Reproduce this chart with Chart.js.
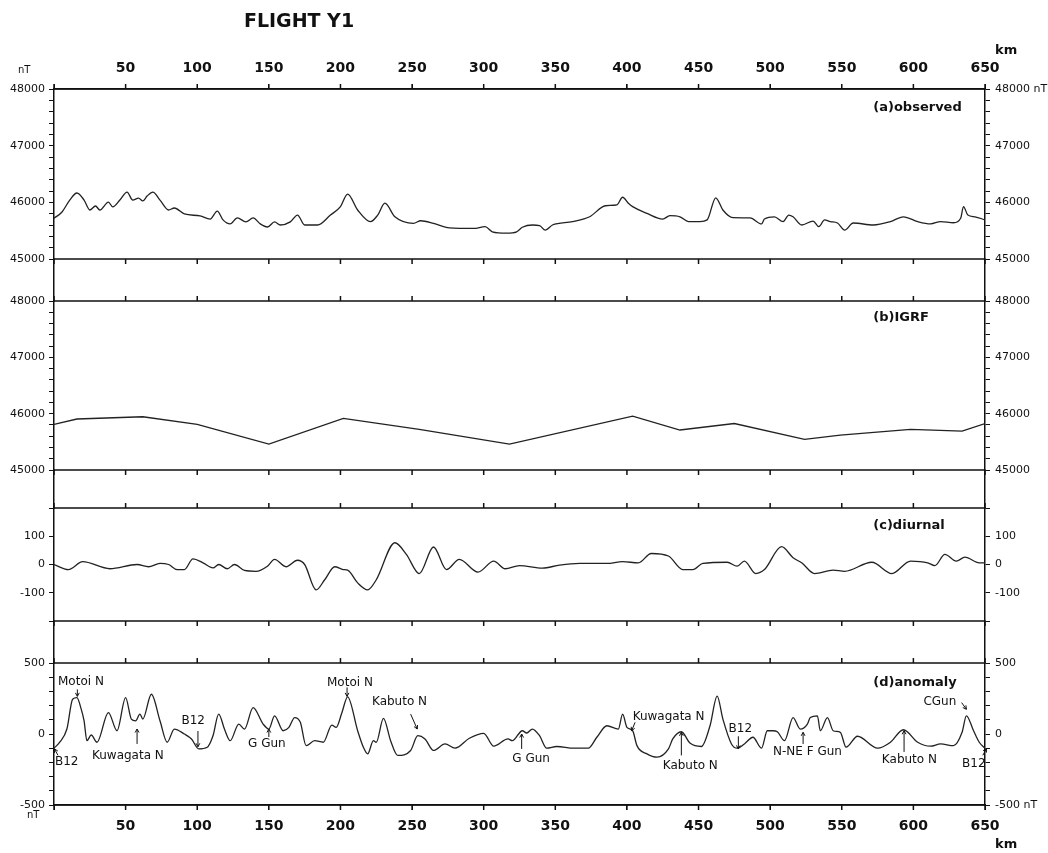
<!DOCTYPE html>
<html>
<head>
<meta charset="utf-8">
<title>Flight Y1</title>
<script src="https://cdn.jsdelivr.net/npm/chart.js@4.4.1/dist/chart.umd.min.js"></script>
<style>
  html, body { margin: 0; padding: 0; background: #fff; }
  canvas { display: block; }
</style>
</head>
<body>
<canvas id="grafico" width="1048" height="853"></canvas>
<script>
// (a) observed total field, km along the flight line / nT
const obsKm = [0, 5.6, 11, 16, 21, 25, 29, 32, 38, 41, 46, 51, 55, 59, 62, 65, 69, 74, 80, 84,
  91, 102, 109, 114, 118, 123, 128, 134, 139, 144, 149, 154, 158, 165, 170, 175, 184, 193, 200, 205,
  212, 221, 226, 231, 238, 251, 256, 265, 276, 293, 301, 306, 316, 323, 327, 334, 339, 343, 348, 362,
  374, 385, 393, 397, 401, 404, 414, 425, 430, 437, 443, 451, 456, 462, 467, 474, 486, 494, 496, 503,
  509, 513, 516, 522, 530, 534, 538, 542, 547, 552, 558, 572, 584, 593, 603, 612, 619, 628, 633, 635,
  638, 643, 650];
const obsNT = [45720, 45830, 46040, 46165, 46040, 45865, 45935, 45865, 46005, 45920, 46040, 46180, 46040, 46075, 46025, 46110, 46180, 46040, 45865, 45900,
  45795, 45760, 45705, 45845, 45690, 45620, 45725, 45655, 45725, 45620, 45565, 45655, 45600, 45655, 45775, 45600, 45600, 45775, 45925, 46145,
  45865, 45660, 45775, 45985, 45745, 45630, 45675, 45630, 45550, 45540, 45570, 45480, 45455, 45480, 45560, 45600, 45590, 45510, 45600, 45660,
  45745, 45940, 45955, 46090, 45985, 45925, 45805, 45705, 45765, 45745, 45660, 45660, 45690, 46080, 45865, 45730, 45725, 45620, 45705, 45745,
  45660, 45775, 45745, 45600, 45670, 45570, 45690, 45660, 45635, 45510, 45635, 45600, 45660, 45745, 45660, 45620, 45660, 45640, 45720, 45925,
  45775, 45745, 45690];

// (b) IGRF
const igrfKm = [0, 16, 62, 100, 150, 202, 255, 318, 404, 437, 475, 524, 549, 598, 634, 650];
const igrfNT = [45810, 45905, 45945, 45810, 45460, 45915, 45720, 45460, 45955, 45710, 45825, 45545, 45620, 45720, 45690, 45825];

// (c) diurnal
const diurnalKm = [0, 10, 20, 39, 58, 66, 74, 80, 86, 91, 97, 104, 111, 115, 121, 126, 133, 141, 149, 154,
  162, 170, 175, 183, 189, 196, 202, 205, 212, 219, 225, 238, 246, 255, 265, 274, 283, 296, 307, 315,
  325, 341, 353, 367, 386, 397, 408, 417, 429, 439, 446, 453, 470, 477, 482, 490, 496, 508, 516, 522,
  531, 544, 552, 571, 585, 598, 610, 615, 622, 630, 636, 646, 650];
const diurnalNT = [0, -18, 10, -15, 0, -8, 4, 0, -18, -18, 20, 6, -12, 0, -15, 0, -21, -24, -6, 18,
  -8, 15, 0, -90, -54, -8, -18, -20, -65, -90, -54, 77, 36, -32, 62, -18, 18, -27, 12, -15,
  -4, -13, -2, 4, 4, 10, 6, 39, 30, -18, -18, 4, 8, -6, 12, -32, -18, 63, 24, 6,
  -32, -20, -24, 8, -32, 12, 6, -4, 36, 12, 26, 6, 6];

// (d) anomaly
const anomKm = [0, 4, 9, 13, 16, 19, 21, 23, 26, 30, 38, 44, 50, 54, 57, 60, 62, 68, 74, 79,
  84, 91, 96, 101, 107, 111, 115, 119, 123, 129, 133, 139, 146, 150, 154, 160, 164, 168, 172, 176,
  182, 188, 194, 197, 201, 205, 212, 216, 219, 223, 225, 230, 235, 240, 249, 254, 259, 265, 273, 280,
  290, 300, 307, 317, 320, 327, 330, 334, 339, 344, 351, 363, 373, 379, 386, 394, 397, 400, 404, 407,
  414, 421, 429, 432, 438, 444, 452, 458, 463, 467, 473, 477, 482, 488, 494, 498, 502, 505, 510, 516,
  521, 526, 528, 533, 535, 540, 544, 549, 553, 561, 575, 584, 593, 603, 612, 619, 628, 634, 637, 642,
  646, 650];
const anomNT = [-100, -58, 35, 245, 256, 175, 93, -47, -7, -58, 151, 23, 256, 105, 93, 140, 105, 280, 93, -58,
  35, 0, -35, -105, -93, -12, 140, 35, -47, 70, 35, 186, 70, 35, 128, 23, 47, 116, 82, -82,
  -47, -58, 63, 47, 150, 262, 23, -93, -140, -47, -58, 110, -47, -151, -116, -12, -35, -116, -70, -100,
  -30, 5, -86, -35, -47, 23, 7, 35, -12, -100, -88, -100, -100, -23, 58, 35, 140, 47, 23, -82,
  -140, -163, -105, -35, 16, -64, -88, 58, 267, 105, -70, -100, -70, -23, -100, 23, 23, 16, -47, 116,
  35, 70, 116, 128, 23, 116, 23, 12, -93, -16, -100, -58, 30, -58, -86, -70, -82, 12, 128, 23,
  -58, -100];

// x ticks (km) and labelled y ticks per panel
const kmTicks = [50, 100, 150, 200, 250, 300, 350, 400, 450, 500, 550, 600, 650];
const fieldLabels = [45000, 46000, 47000, 48000];
const diurnalLabels = [-100, 0, 100];
const anomLabels = [-500, 0, 500];

// text notes on the anomaly panel
const noteText = ['Motoi N', 'B12', 'Kuwagata N', 'B12', 'G Gun', 'Motoi N', 'Kabuto N', 'G Gun',
  'Kuwagata N', 'Kabuto N', 'B12', 'N-NE F Gun', 'Kabuto N', 'B12', 'CGun'];
const noteKm = [2.8, 0.7, 26.5, 89, 135.5, 190.6, 222, 320, 404, 425, 471, 502, 578, 634, 607];
const noteNT = [370, -195, -153, 90, -70, 363, 223, -175, 119, -221, 35, -124, -179, -209, 223];
const arrowFromKm = [16.3, 2.8, 58, 100.5, 150, 204.6, 249, 326.5, 405.7, 438, 477.8, 523, 593.5, 648.5, 633.7];
const arrowFromNT = [314, -150, -70, 21, -21, 328, 140, -105, 82, -151, -16, -70, -126, -150, 221];
const arrowToKm = [16.3, 0.3, 58, 100.5, 150, 204.6, 253.6, 326.5, 403.3, 438, 477.8, 523, 593.5, 651, 637];
const arrowToNT = [265, -105, 35, -90, 35, 265, 35, 0, 23, 12, -105, 12, 23, -103, 174];

const panelNames = ['(a)observed', '(b)IGRF', '(c)diurnal', '(d)anomaly'];
const panelNameKm = 572;
const panelNameNT = [47665, 47711, 136, 363];

const ink = '#111';
const lineInk = '#222';
const yFont = { family: 'DejaVu Sans', size: 11 };
const xFont = { family: 'DejaVu Sans', size: 14, weight: 'bold' };

function toPoints(xs, ys) {
  return xs.map((v, i) => ({ x: v, y: ys[i] }));
}

// one band of the stacked y axes
function panelAxis(pos, min, max, step, labels, order, size, unitAt) {
  return {
    type: 'linear', position: pos, stack: pos + 'Stack', stackWeight: size, weight: order,
    min: min, max: max,
    border: { display: true, color: ink, width: 1.5 },
    grid: { drawOnChartArea: false, tickLength: 5, color: ink },
    ticks: {
      stepSize: step, autoSkip: false, color: ink, font: yFont, padding: pos === 'left' ? 4 : 5,
      callback: v => labels.includes(v) ? (v === unitAt ? v + ' nT' : String(v)) : ''
    },
    afterFit: s => { s.width = pos === 'left' ? 54 : 63; }
  };
}

// empty band between panels
function gapAxis(pos, order, size) {
  return {
    type: 'linear', position: pos, stack: pos + 'Stack', stackWeight: size, weight: order,
    min: 0, max: 1,
    border: { display: true, color: ink, width: 1.5 },
    grid: { display: false },
    ticks: { display: false },
    afterFit: s => { s.width = pos === 'left' ? 54 : 63; }
  };
}

function kmAxis(pos, pad, height) {
  return {
    type: 'linear', position: pos, min: 0, max: 650,
    border: { color: ink, width: 1.5 },
    grid: { drawOnChartArea: false, tickLength: 5, color: ink },
    afterBuildTicks: s => { s.ticks = [0].concat(kmTicks).map(v => ({ value: v })); },
    ticks: {
      autoSkip: false, maxRotation: 0, padding: pad, color: ink, font: xFont,
      callback: v => kmTicks.includes(v) ? String(v) : ''
    },
    afterFit: s => { s.height = height; }
  };
}

// horizontal frame lines with km ticks between the panels
const frameLines = {
  id: 'frameLines',
  afterDatasetsDraw(chart) {
    const ctx = chart.ctx;
    const x = chart.scales.x;
    ctx.save();
    ctx.strokeStyle = ink;
    ctx.lineWidth = 1.5;
    ['ya', 'yb', 'yc', 'yd'].forEach(id => {
      const s = chart.scales[id];
      [[s.top, -1], [s.bottom, 1]].forEach(([y, dir]) => {
        ctx.beginPath();
        ctx.moveTo(x.left, y);
        ctx.lineTo(x.right, y);
        x.ticks.forEach(t => {
          const px = x.getPixelForValue(t.value);
          ctx.moveTo(px, y);
          ctx.lineTo(px, y + dir * 5);
        });
        ctx.stroke();
      });
    });
    ctx.restore();
  }
};

function drawArrow(ctx, x1, y1, x2, y2) {
  const ang = Math.atan2(y2 - y1, x2 - x1);
  ctx.beginPath();
  ctx.moveTo(x1, y1);
  ctx.lineTo(x2, y2);
  ctx.moveTo(x2 - 4 * Math.cos(ang - 0.5), y2 - 4 * Math.sin(ang - 0.5));
  ctx.lineTo(x2, y2);
  ctx.lineTo(x2 - 4 * Math.cos(ang + 0.5), y2 - 4 * Math.sin(ang + 0.5));
  ctx.stroke();
}

// title, units, panel names and the notes on (d)
const texts = {
  id: 'texts',
  afterDraw(chart) {
    const { ctx, chartArea: area, scales } = chart;
    const x = scales.x;
    ctx.save();
    ctx.fillStyle = ink;
    ctx.strokeStyle = ink;
    ctx.textBaseline = 'middle';

    ctx.font = 'bold 19px "DejaVu Sans"';
    ctx.textAlign = 'center';
    ctx.fillText('FLIGHT Y1', 299, 22);

    ctx.font = 'bold 13px "DejaVu Sans"';
    ctx.textAlign = 'left';
    ctx.fillText('km', area.right + 10, area.top - 38);
    ctx.fillText('km', area.right + 10, area.bottom + 40);

    ctx.font = '10px "DejaVu Sans"';
    ctx.fillText('nT', 18, area.top - 19);
    ctx.fillText('nT', 27, area.bottom + 10);

    ctx.font = 'bold 13px "DejaVu Sans"';
    ['ya', 'yb', 'yc', 'yd'].forEach((id, i) => {
      ctx.fillText(panelNames[i], x.getPixelForValue(panelNameKm), scales[id].getPixelForValue(panelNameNT[i]));
    });

    const yd = scales.yd;
    ctx.font = '12px "DejaVu Sans"';
    ctx.lineWidth = 1;
    noteText.forEach((t, i) => {
      ctx.fillText(t, x.getPixelForValue(noteKm[i]), yd.getPixelForValue(noteNT[i]));
      drawArrow(ctx,
        x.getPixelForValue(arrowFromKm[i]), yd.getPixelForValue(arrowFromNT[i]),
        x.getPixelForValue(arrowToKm[i]), yd.getPixelForValue(arrowToNT[i]));
    });
    ctx.restore();
  }
};

window.onload = function () {
  const ctx = document.getElementById('grafico').getContext('2d');
  const line = { borderColor: lineInk, borderWidth: 1.3, pointRadius: 0, fill: false, xAxisID: 'x' };

  new Chart(ctx, {
    type: 'line',
    data: {
      datasets: [
        Object.assign({ label: 'observed', data: toPoints(obsKm, obsNT), yAxisID: 'ya', cubicInterpolationMode: 'monotone' }, line),
        Object.assign({ label: 'IGRF', data: toPoints(igrfKm, igrfNT), yAxisID: 'yb', tension: 0 }, line),
        Object.assign({ label: 'diurnal', data: toPoints(diurnalKm, diurnalNT), yAxisID: 'yc', cubicInterpolationMode: 'monotone' }, line),
        Object.assign({ label: 'anomaly', data: toPoints(anomKm, anomNT), yAxisID: 'yd', cubicInterpolationMode: 'monotone' }, line)
      ]
    },
    options: {
      responsive: false,
      animation: false,
      devicePixelRatio: 1,
      layout: { padding: 0 },
      plugins: { legend: { display: false }, tooltip: { enabled: false } },
      scales: {
        x: kmAxis('bottom', 8, 48),
        xTop: kmAxis('top', 7, 89),
        ya: panelAxis('left', 45000, 48000, 200, fieldLabels, 7, 170, null),
        ga: gapAxis('left', 6, 42),
        yb: panelAxis('left', 45000, 48000, 200, fieldLabels, 5, 169, null),
        gb: gapAxis('left', 4, 38),
        yc: panelAxis('left', -200, 200, 100, diurnalLabels, 3, 113, null),
        gc: gapAxis('left', 2, 42),
        yd: panelAxis('left', -500, 500, 100, anomLabels, 1, 142, null),
        ra: panelAxis('right', 45000, 48000, 200, fieldLabels, 1, 170, 48000),
        rga: gapAxis('right', 2, 42),
        rb: panelAxis('right', 45000, 48000, 200, fieldLabels, 3, 169, null),
        rgb: gapAxis('right', 4, 38),
        rc: panelAxis('right', -200, 200, 100, diurnalLabels, 5, 113, null),
        rgc: gapAxis('right', 6, 42),
        rd: panelAxis('right', -500, 500, 100, anomLabels, 7, 142, -500)
      }
    },
    plugins: [frameLines, texts]
  });
};
</script>
</body>
</html>
